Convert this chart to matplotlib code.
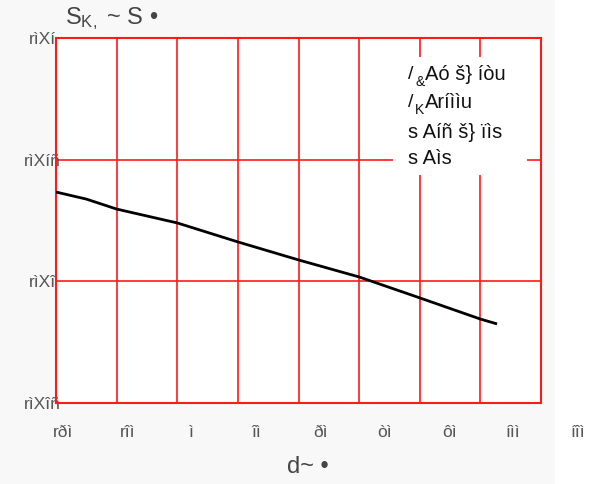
import matplotlib
matplotlib.use('Agg')
import matplotlib.pyplot as plt
from matplotlib.patches import Rectangle
from matplotlib.transforms import offset_copy

plt.rcParams['font.family'] = ['Liberation Sans', 'DejaVu Sans']
plt.rcParams['mathtext.fontset'] = 'custom'
plt.rcParams['mathtext.rm'] = 'Liberation Sans'
plt.rcParams['mathtext.it'] = 'Liberation Sans'

# curve
temp = [-40, -30, -20, 0, 20, 40, 60, 80, 100, 105.5]
tc = [-0.1633, -0.1662, -0.1703, -0.1760, -0.1838, -0.1912, -0.1982, -0.2068, -0.2155, -0.2175]

x_ticks = [-40, -20, 0, 20, 40, 60, 80, 100, 120]
x_labels = ['rðì', 'rîì', 'ì', 'îì', 'ðì', 'òì', 'ôì', 'íìì', 'íîì']
y_ticks = [-0.25, -0.2, -0.15, -0.1]
y_labels = ['rìXîñ', 'rìXî', 'rìXíñ', 'rìXí']

# legend lines: (lead, subscript, rest)
notes = [('/', '&', 'Aó š} íòu'), ('/', 'K', 'Aríììu'), ('', '', 's Aíñ š} ïìs'), ('', '', 's Aìs')]

W, H = 611, 484
fig = plt.figure(figsize=(W / 100, H / 100), dpi=100, facecolor='#f8f8f8')
fig.patches.append(Rectangle((555 / W, 0), 56 / W, 1, transform=fig.transFigure,
                             color='white', zorder=-5))

left, right, top, bottom = 56, 541, 38, 403
pos = [left / W, 1 - bottom / H, (right - left) / W, (bottom - top) / H]

# shifted axis that only carries the x tick labels (as in the picture)
lab = fig.add_axes([63 / W, pos[1], (578 - 63) / W, pos[3]])
lab.patch.set_visible(False)
for s in lab.spines.values():
    s.set_visible(False)
lab.set_xlim(-40, 120)
lab.set_xticks(x_ticks)
lab.set_xticklabels(x_labels, fontsize=12.5, color='#555555')
lab.set_yticks([])
lab.tick_params(axis='x', length=0, pad=16)

ax = fig.add_axes(pos)
ax.set_facecolor('white')
ax.plot(temp, tc, color='black', lw=2.0, solid_capstyle='butt', zorder=3)
ax.set_xlim(-40, 120)
ax.set_ylim(-0.25, -0.1)
ax.set_xticks(x_ticks)
ax.set_xticklabels([])
ax.set_yticks(y_ticks)
ax.set_yticklabels(y_labels, fontsize=12.5, color='#555555', ha='center')
ax.tick_params(length=0)
ax.tick_params(axis='y', pad=10)
ax.grid(True, color='#ff1a1a', lw=1.2)
for s in ax.spines.values():
    s.set_color('#ff1a1a')
    s.set_linewidth(1.5)

ax.add_patch(Rectangle((0.695, 0.625), 0.276, 0.323, transform=ax.transAxes,
                       facecolor='white', edgecolor='none', zorder=2))
for yy, (lead, sub, rest) in zip([0.899, 0.822, 0.742, 0.671], notes):
    x0 = 0.726
    dx = 0
    if lead:
        ax.text(x0, yy, lead, transform=ax.transAxes, fontsize=14, color='#111111',
                va='center', ha='left', zorder=4)
        tr = offset_copy(ax.transAxes, fig=fig, x=5, y=-5, units='points')
        ax.text(x0, yy, sub, transform=tr, fontsize=10, color='#111111',
                va='center', ha='left', zorder=4)
        dx = 12
    tr = offset_copy(ax.transAxes, fig=fig, x=dx, y=0, units='points')
    ax.text(x0, yy, rest, transform=tr, fontsize=14.5, color='#111111',
            va='center', ha='left', zorder=4)

fig.text(65 / W, 1 - 24 / H, r'S$_{\mathrm{K,}}$ ~ S •', fontsize=17,
         color='#444444', va='baseline')
fig.text(308 / W, 1 - 467 / H, 'd~ •', fontsize=17, color='#444444',
         ha='center', va='center')

fig.savefig('out.png', dpi=100, facecolor=fig.get_facecolor())
